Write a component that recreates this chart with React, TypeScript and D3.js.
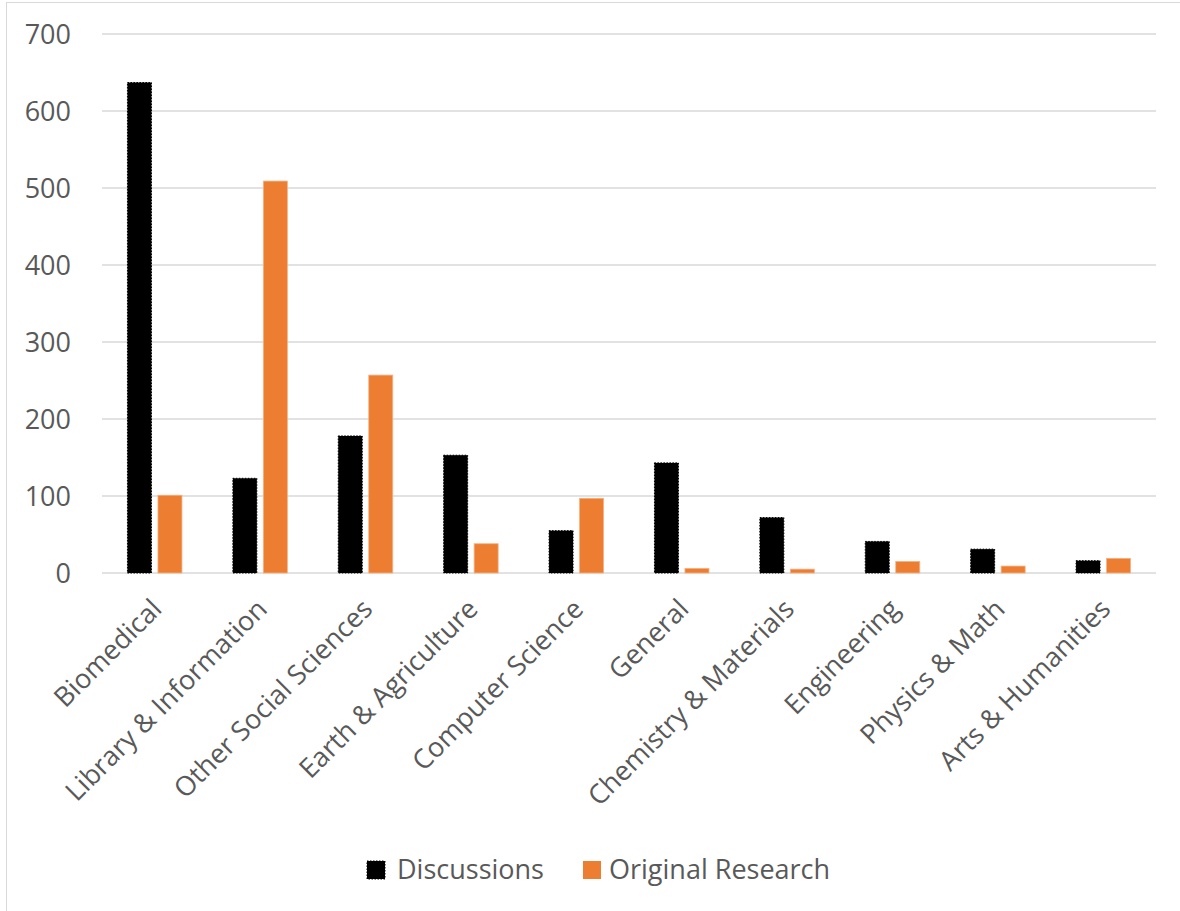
import React from "react";
import * as d3 from "d3";

const categories = [
  "Biomedical",
  "Library & Information",
  "Other Social Sciences",
  "Earth & Agriculture",
  "Computer Science",
  "General",
  "Chemistry & Materials",
  "Engineering",
  "Physics & Math",
  "Arts & Humanities",
];
const discussions = [637, 123, 178, 153, 55, 143, 72, 41, 31, 16];
const originalResearch = [101, 509, 257, 38, 97, 6, 5, 15, 9, 19];
const seriesNames = ["Discussions", "Original Research"];
const yTicks = [0, 100, 200, 300, 400, 500, 600, 700];

const W = 1180;
const H = 911;
const FONT = "'Open Sans', 'Segoe UI', sans-serif";
const TEXT = "#595959";
const ORANGE = "#ED7D31";
const FS = 27;

export default function App() {
  const x = d3.scaleBand<string>().domain(categories).range([102, 1156]).paddingInner(0).paddingOuter(0);
  const y = d3.scaleLinear().domain([0, 700]).range([573, 34]);
  const groupW = 54.5;
  const x1 = d3.scaleBand<string>().domain(seriesNames).range([0, groupW]).paddingInner(0.213).paddingOuter(0);
  const values = [discussions, originalResearch];

  return (
    <svg
      width={W}
      height={H}
      style={{ position: "absolute", left: 0, top: 0, background: "#fff" }}
      fontFamily={FONT}
    >
      <rect x={6.5} y={2.5} width={W + 20} height={H + 20} fill="#fff" stroke="#D9D9D9" strokeWidth={1} />
      {yTicks.map((t) => (
        <g key={t}>
          <line x1={102} x2={1156} y1={y(t)} y2={y(t)} stroke="#D9D9D9" strokeWidth={t === 0 ? 1.5 : 1.3} />
          <text x={71} y={y(t)} dy="0.36em" textAnchor="end" fontSize={FS} fill={TEXT}>
            {t}
          </text>
        </g>
      ))}
      {categories.map((c, i) => {
        const cx = (x(c) as number) + x.bandwidth() / 2;
        const gx = cx - groupW / 2;
        return (
          <g key={c}>
            {seriesNames.map((s, si) => {
              const v = values[si][i];
              const bx = gx + (x1(s) as number);
              const by = y(v);
              const bh = y(0) - by;
              return si === 0 ? (
                <rect
                  key={s}
                  x={bx}
                  y={by}
                  width={x1.bandwidth()}
                  height={bh}
                  fill="#000"
                  stroke="#000"
                  strokeWidth={1}
                  strokeDasharray="1.5 1.5"
                />
              ) : (
                <rect
                  key={s}
                  x={bx}
                  y={by}
                  width={x1.bandwidth()}
                  height={bh}
                  fill={ORANGE}
                  stroke="#F4B183"
                  strokeWidth={0.8}
                />
              );
            })}
            <text
              transform={`translate(${cx + 2},${604}) rotate(-45)`}
              textAnchor="end"
              dy="0.35em"
              fontSize={FS}
              fill={TEXT}
            >
              {c}
            </text>
          </g>
        );
      })}
      <g>
        <rect x={367} y={861} width={18} height={18} fill="#000" stroke="#000" strokeDasharray="1.5 1.5" />
        <text x={397} y={879} fontSize={FS} fill={TEXT}>
          {seriesNames[0]}
        </text>
        <rect x={583} y={861} width={18} height={18} fill={ORANGE} />
        <text x={609} y={879} fontSize={FS} fill={TEXT}>
          {seriesNames[1]}
        </text>
      </g>
    </svg>
  );
}
